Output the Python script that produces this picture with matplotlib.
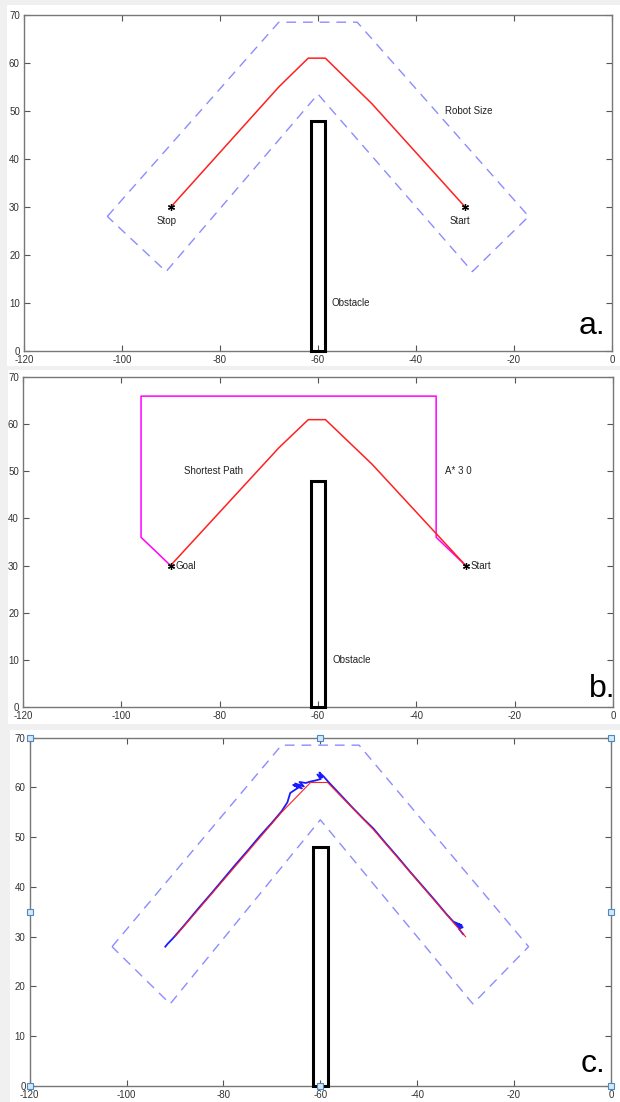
import matplotlib
matplotlib.use("Agg")
import matplotlib.pyplot as plt
from matplotlib.patches import Rectangle

plt.rcParams["font.family"] = ["Liberation Sans", "DejaVu Sans"]
plt.rcParams["axes.unicode_minus"] = False

# robot path (start -> stop), same in all three panels
path_x = [-90, -68, -62, -58.5, -49, -30]
path_y = [30, 55, 61, 61, 51.5, 30]

# robot size envelope (dashed)
env_x = [-103, -68, -52, -17, -28.5, -60, -91, -103]
env_y = [28, 68.5, 68.5, 28, 16.5, 53.5, 16.5, 28]

# obstacle: x0, y0, width, height
obstacle = (-61.5, 0, 3, 48)

# A* search box (panel b)
astar_x = [-30, -36, -36, -96, -96, -90]
astar_y = [30, 36, 66, 66, 36, 30]

# measured trajectory (panel c), read by eye, start -> stop
traj_x = [-30.5, -31.4, -30.6, -31.8, -30.8, -32.2, -31.3, -32.5, -34, -36.5, -39,
          -41.5, -44, -46.5, -49, -51, -53.5, -56, -58.5, -59.3, -60.2, -59.6,
          -60.6, -59.9, -61, -62, -63, -64.3, -63.4, -65.2, -63.8, -65.6, -64.5,
          -66.2, -66.8, -68, -70, -72.5, -75, -77.5, -80, -82.5, -85, -88, -90.5,
          -91.5, -92]
traj_y = [30.5, 31.6, 31.9, 32.6, 32.3, 32.9, 31.8, 33.0, 34.6, 37.5, 40.3,
          43.1, 46.0, 48.8, 51.7, 53.6, 56.1, 58.7, 61.3, 62.2, 63.0, 62.0,
          62.6, 61.7, 61.4, 61.2, 60.9, 61.1, 60.2, 60.8, 59.8, 60.5, 60.0,
          58.9, 57.0, 55.2, 52.9, 50.2, 47.3, 44.5, 41.6, 38.7, 35.9, 32.4, 29.6,
          28.6, 28]

xticks = [-120, -100, -80, -60, -40, -20, 0]
yticks = [0, 10, 20, 30, 40, 50, 60, 70]

W, H = 620, 1102
fig = plt.figure(figsize=(W / 100, H / 100), dpi=100, facecolor="#f0f0f0")

# white panel backgrounds (px: x0, y_top, x1, y_bottom)
for x0, yt, x1, yb in [(7, 5, 620, 366), (8, 370, 620, 724), (10, 730, 620, 1102)]:
    fig.patches.append(Rectangle((x0 / W, 1 - yb / H), (x1 - x0) / W, (yb - yt) / H,
                                 transform=fig.transFigure, facecolor="white",
                                 edgecolor="none", zorder=-10))


def make_axes(left, top, right, bottom):
    ax = fig.add_axes([left / W, 1 - bottom / H, (right - left) / W, (bottom - top) / H])
    ax.set_xlim(-120, 0)
    ax.set_ylim(0, 70)
    ax.set_xticks(xticks)
    ax.set_yticks(yticks)
    ax.tick_params(direction="in", top=True, right=True, length=4, width=0.8,
                   labelsize=7, colors="#555555", labelcolor="#333333", pad=3)
    for s in ax.spines.values():
        s.set_color("#777777")
        s.set_linewidth(1)
    return ax


def draw_obstacle(ax):
    x0, y0, w, h = obstacle
    ax.add_patch(Rectangle((x0, y0), w, h, fill=False, edgecolor="black",
                           lw=2.2, zorder=4, clip_on=False))


def draw_stars(ax):
    ax.plot([path_x[0], path_x[-1]], [path_y[0], path_y[-1]], ls="none",
            marker=(6, 2, 0), ms=5, color="black", mew=0.9, zorder=5)


dash = (0, (7, 5))
envc = "#8c8cff"

#   panel a
ax = make_axes(24, 15, 612, 350.7)
ax.plot(env_x, env_y, color=envc, lw=1, ls=dash)
ax.plot(path_x, path_y, color="#ff2020", lw=1.1)
draw_stars(ax)
draw_obstacle(ax)
ax.text(-34, 50, "Robot Size", fontsize=7, va="center", color="#222222")
ax.text(-91, 27, "Stop", fontsize=7, ha="center", va="center", color="#222222")
ax.text(-31, 27, "Start", fontsize=7, ha="center", va="center", color="#222222")
ax.text(-57.2, 10, "Obstacle", fontsize=7, va="center", color="#222222")
ax.text(-1.3, 2, "a.", fontsize=23, ha="right", va="bottom", clip_on=False)

#   panel b
ax = make_axes(23, 377.3, 613.2, 706.7)
ax.plot(astar_x, astar_y, color="#ff00ff", lw=1.1)
ax.plot(path_x, path_y, color="#ff2020", lw=1.1)
draw_stars(ax)
draw_obstacle(ax)
ax.text(-87.2, 50, "Shortest Path", fontsize=7, va="center", color="#222222")
ax.text(-34.2, 50, "A* 3 0", fontsize=7, va="center", color="#222222")
ax.text(-88.9, 30, "Goal", fontsize=7, va="center", color="#222222")
ax.text(-29.1, 30, "Start", fontsize=7, va="center", color="#222222")
ax.text(-57, 10, "Obstacle", fontsize=7, va="center", color="#222222")
ax.text(0.5, 0.5, "b.", fontsize=23, ha="right", va="bottom", clip_on=False)

#   panel c
ax = make_axes(29.7, 737.7, 610.9, 1086)
ax.plot(env_x, env_y, color=envc, lw=1, ls=dash)
ax.plot(traj_x, traj_y, color="#1a1aff", lw=1.3)
ax.plot(path_x, path_y, color="#ff2020", lw=0.8)
draw_obstacle(ax)
ax.text(-1.2, 1.5, "c.", fontsize=23, ha="right", va="bottom", clip_on=False)
hx = [-120, -120, -120, -60, 0, 0, 0, -60]
hy = [0, 35, 70, 70, 70, 35, 0, 0]
ax.plot(hx, hy, ls="none", marker="s", ms=4, mfc="#d6e8f7", mec="#4a8ac4",
        mew=0.8, clip_on=False, zorder=5)

fig.savefig("out.png", dpi=100, facecolor=fig.get_facecolor())
